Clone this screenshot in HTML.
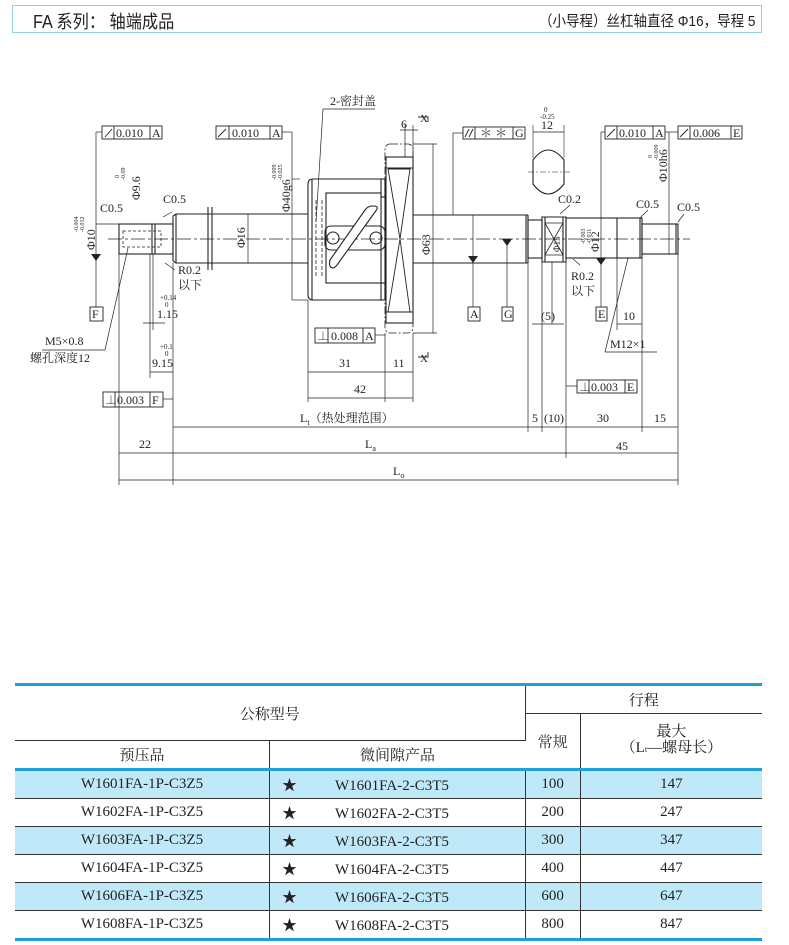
<!DOCTYPE html>
<html><head><meta charset="utf-8"><style>
body{margin:0;width:789px;height:945px;background:#fff;position:relative;overflow:hidden;font-family:"Liberation Serif","Noto Serif CJK SC",serif;color:#222}
.hdr{position:absolute;left:12px;top:5px;width:748px;height:26px;border:1.5px solid #8fd0e6;}
.hdr .l{position:absolute;left:20px;top:2px;font-size:18px;font-family:"Liberation Sans","Noto Sans CJK SC",sans-serif;transform:scaleX(.9);transform-origin:left}
.hdr .r{position:absolute;right:6px;top:4px;font-size:15px;font-family:"Liberation Sans","Noto Sans CJK SC",sans-serif;transform:scaleX(.9);transform-origin:right}
table{position:absolute;left:15px;top:683px;width:747px;border-collapse:collapse;font-size:15px;text-align:center;font-family:"Liberation Serif","Noto Serif CJK SC",serif}
td{border:1px solid #333;padding:0;height:27px}
.tb{border-top:3px solid #1fa0d8}
.bb td{border-bottom:3px solid #1fa0d8}
.b{background:#bfe9f8}
tr td:first-child{border-left:none} tr td:last-child{border-right:none}
</style></head><body>
<div class="hdr"><span class="l">FA 系列： 轴端成品</span><span class="r">（小导程）丝杠轴直径 Φ16，导程 5</span></div>
<svg width="789" height="500" style="position:absolute;left:0;top:0" font-family="Liberation Serif, Noto Serif CJK SC, serif" font-size="13" fill="none" stroke="#222" stroke-width="1.1">
<line x1="108" y1="239" x2="690" y2="239" stroke-dasharray="14,3,3,3" stroke-width=".7"/>
<!-- left journal -->
<rect x="119" y="224" width="54" height="30"/>
<line x1="152" y1="224" x2="152" y2="254"/><line x1="155" y1="224" x2="155" y2="254"/>
<rect x="123" y="231" width="38" height="16" stroke-dasharray="3,2" stroke-width=".8"/>
<line x1="173" y1="216" x2="173" y2="261"/>
<path d="M173,216 L176,214 H308 M173,261 L176,263 H308"/>
<line x1="176" y1="214" x2="176" y2="263"/>
<line x1="208" y1="207" x2="208" y2="270"/><line x1="212" y1="207" x2="212" y2="270"/>
<!-- nut -->
<path d="M313,179 H385 V300 H313 Q308,300 308,295 V184 Q308,179 313,179Z"/>
<line x1="312" y1="179" x2="312" y2="300"/>
<rect x="326" y="193" width="55" height="90"/>
<rect x="381" y="179" width="4" height="18"/><rect x="381" y="283" width="4" height="17"/>
<rect x="325" y="226" width="60" height="24" rx="6"/>
<circle cx="333" cy="238" r="6"/><circle cx="376" cy="238" r="6"/>
<path d="M337,265 L375,212 Q380,206 374,206 L372,206 Q368,206 365,210 L330,260 Q328,268 334,268Z" fill="#fff"/>
<line x1="316" y1="200" x2="316" y2="278" stroke-dasharray="4,2" stroke-width=".8"/>
<line x1="322" y1="200" x2="322" y2="278" stroke-dasharray="4,2" stroke-width=".8"/>
<!-- flange -->
<rect x="385" y="144" width="28" height="189" rx="5" stroke-dasharray="8,2,2,2" stroke-width=".8"/>
<rect x="386" y="157" width="27" height="166"/>
<line x1="386" y1="168" x2="413" y2="168"/><line x1="386" y1="312" x2="413" y2="312"/>
<polyline points="388,169 410,169 400,239 388,312 410,312 400,239 388,169" stroke-width=".9"/>
<!-- right shaft -->
<line x1="413" y1="215" x2="528" y2="215"/><line x1="413" y1="263" x2="528" y2="263"/>
<path d="M528,215 V263 M526,215 V263"/>
<rect x="528" y="220" width="14" height="38"/>
<path d="M542,217 H566 V262 H542Z M545,217 V262 M563,217 V262"/>
<path d="M545,223 L563,255 M545,255 L563,223 M545,223 H563 M545,255 H563" stroke-width=".8"/>
<rect x="566" y="218" width="76" height="40"/><line x1="617" y1="218" x2="617" y2="258"/><line x1="640" y1="218" x2="640" y2="258"/>
<rect x="642" y="224" width="36" height="30"/><line x1="676" y1="224" x2="676" y2="254"/>
<path d="M533,160 Q548,140 564,160 V184 Q548,204 533,184Z"/>
<line x1="528" y1="172" x2="570" y2="172" stroke-dasharray="6,2,2,2" stroke-width=".6"/>
<line x1="533" y1="125" x2="533" y2="158" stroke-width=".6"/><line x1="564" y1="125" x2="564" y2="158" stroke-width=".6"/>
<line x1="533" y1="132" x2="564" y2="132" stroke-width=".7"/>
<g stroke-width=".7">
<line x1="119" y1="254" x2="119" y2="485"/><line x1="173" y1="263" x2="173" y2="485"/>
<line x1="153" y1="254" x2="153" y2="330"/><line x1="150" y1="254" x2="150" y2="378"/>
<line x1="308" y1="300" x2="308" y2="402"/><line x1="385" y1="333" x2="385" y2="402"/><line x1="413" y1="333" x2="413" y2="402"/>
<line x1="528" y1="263" x2="528" y2="432"/><line x1="542" y1="262" x2="542" y2="432"/><line x1="566" y1="262" x2="566" y2="458"/>
<line x1="642" y1="258" x2="642" y2="432"/><line x1="678" y1="254" x2="678" y2="485"/>
<line x1="119" y1="480" x2="678" y2="480"/><line x1="119" y1="453" x2="678" y2="453"/>
<line x1="173" y1="427" x2="678" y2="427"/>
<line x1="308" y1="372" x2="413" y2="372"/><line x1="308" y1="398" x2="413" y2="398"/>
<line x1="143" y1="323" x2="165" y2="323"/><line x1="150" y1="372" x2="173" y2="372"/>
<line x1="433" y1="144" x2="433" y2="333"/><line x1="413" y1="144" x2="437" y2="144"/><line x1="413" y1="333" x2="437" y2="333"/>
<line x1="292" y1="132" x2="292" y2="300"/><line x1="282" y1="132" x2="292" y2="132"/><line x1="292" y1="179" x2="300" y2="179"/><line x1="292" y1="300" x2="308" y2="300"/>
<line x1="96" y1="132" x2="96" y2="307"/><line x1="96" y1="132" x2="102" y2="132"/><line x1="96" y1="224" x2="119" y2="224"/>
<line x1="248" y1="214" x2="248" y2="263"/>
<line x1="473" y1="215" x2="473" y2="307"/><line x1="507" y1="239" x2="507" y2="307"/>
<line x1="601" y1="132" x2="601" y2="307"/><line x1="601" y1="132" x2="605" y2="132"/>
<line x1="669" y1="132" x2="669" y2="254"/><line x1="665" y1="132" x2="678" y2="132"/>
<line x1="453" y1="133" x2="453" y2="215"/><line x1="453" y1="133" x2="463" y2="133"/>
<line x1="552" y1="262" x2="552" y2="324"/><line x1="532" y1="324" x2="564" y2="324"/>
<line x1="617" y1="258" x2="617" y2="330"/><line x1="617" y1="324" x2="642" y2="324"/>
<line x1="405" y1="125" x2="405" y2="157"/><line x1="413" y1="125" x2="413" y2="157"/><line x1="400" y1="130" x2="418" y2="130"/>
<line x1="323" y1="109" x2="375" y2="109"/><line x1="323" y1="109" x2="316" y2="222"/>
<line x1="163" y1="399" x2="173" y2="399"/><line x1="566" y1="386" x2="577" y2="386"/>
<line x1="375" y1="335" x2="385" y2="335"/>
<line x1="42" y1="350" x2="105" y2="350"/><line x1="105" y1="350" x2="128" y2="248"/>
<line x1="605" y1="352" x2="657" y2="352"/><line x1="605" y1="352" x2="628" y2="258"/>
<line x1="165" y1="263" x2="175" y2="270"/><line x1="573" y1="259" x2="580" y2="265"/>
<line x1="163" y1="217" x2="172" y2="212"/><line x1="560" y1="214" x2="570" y2="205"/>
<line x1="640" y1="218" x2="648" y2="210"/><line x1="678" y1="222" x2="684" y2="214"/>
</g>
<g fill="#222" stroke="none">
<polygon points="91,254 101,254 96,261"/><polygon points="468,256 478,256 473,263"/><polygon points="502,239 512,239 507,246"/><polygon points="596,258 606,258 601,265"/>
</g>
<g stroke-width=".9">
<rect x="102" y="126" width="60" height="13"/><line x1="114" y1="126" x2="114" y2="139"/><line x1="150" y1="126" x2="150" y2="139"/>
<rect x="216" y="126" width="66" height="13"/><line x1="229" y1="126" x2="229" y2="139"/><line x1="270" y1="126" x2="270" y2="139"/>
<rect x="463" y="127" width="62" height="12"/><line x1="475" y1="127" x2="475" y2="139"/><line x1="513" y1="127" x2="513" y2="139"/>
<rect x="605" y="126" width="60" height="13"/><line x1="617" y1="126" x2="617" y2="139"/><line x1="653" y1="126" x2="653" y2="139"/>
<rect x="678" y="126" width="64" height="13"/><line x1="690" y1="126" x2="690" y2="139"/><line x1="731" y1="126" x2="731" y2="139"/>
<rect x="315" y="328" width="60" height="15"/><line x1="328" y1="328" x2="328" y2="343"/><line x1="363" y1="328" x2="363" y2="343"/>
<rect x="103" y="392" width="60" height="15"/><line x1="115" y1="392" x2="115" y2="407"/><line x1="150" y1="392" x2="150" y2="407"/>
<rect x="577" y="380" width="60" height="13"/><line x1="589" y1="380" x2="589" y2="393"/><line x1="625" y1="380" x2="625" y2="393"/>
<rect x="90" y="307" width="13" height="14"/><rect x="468" y="307" width="12" height="14"/><rect x="502" y="307" width="11" height="14"/><rect x="596" y="307" width="11" height="14"/>
<path d="M105,137 L112,129 M218,137 L226,129 M607,137 L615,129 M680,137 L688,129 M465,137 L469,129 M469,137 L473,129"/>
<path d="M418,117 H428 V122 M418,357 H428 V352"/>
</g>
<g fill="#222" stroke="none" font-size="12">
<text x="116" y="137">0.010</text><text x="152" y="137">A</text>
<text x="232" y="137">0.010</text><text x="272" y="137">A</text>
<text x="480" y="137">＊ ＊</text><text x="515" y="137">G</text>
<text x="619" y="137">0.010</text><text x="655" y="137">A</text>
<text x="693" y="137">0.006</text><text x="733" y="137">E</text>
<text x="317" y="340">⊥</text><text x="331" y="340">0.008</text><text x="365" y="340">A</text>
<text x="105" y="404">⊥</text><text x="117" y="404">0.003</text><text x="152" y="404">F</text>
<text x="579" y="391">⊥</text><text x="591" y="391">0.003</text><text x="627" y="391">E</text>
<text x="92" y="318">F</text><text x="470" y="318">A</text><text x="504" y="318">G</text><text x="598" y="318">E</text>
<text x="100" y="212">C0.5</text><text x="163" y="203">C0.5</text><text x="558" y="203">C0.2</text><text x="636" y="208">C0.5</text><text x="677" y="211">C0.5</text>
<text x="178" y="274">R0.2</text><text x="178" y="289">以下</text>
<text x="571" y="280">R0.2</text><text x="571" y="295">以下</text>
<text x="157" y="318">1.15</text><text x="152" y="367">9.15</text>
<text x="160" y="300" font-size="7">+0.14</text><text x="165" y="307" font-size="7">0</text>
<text x="160" y="349" font-size="7">+0.1</text><text x="165" y="356" font-size="7">0</text>
<text x="330" y="105">2-密封盖</text>
<text x="401" y="128">6</text>
<text x="420" y="122" font-size="11">X</text><text x="420" y="362" font-size="11">X</text>
<text x="339" y="367">31</text><text x="393" y="367">11</text><text x="354" y="393">42</text>
<text x="300" y="422">L<tspan font-size="8" dy="3">t</tspan><tspan dy="-3">（热处理范围）</tspan></text>
<text x="139" y="448">22</text><text x="365" y="448">L<tspan font-size="8" dy="3">a</tspan></text>
<text x="393" y="475">L<tspan font-size="8" dy="3">o</tspan></text>
<text x="532" y="422">5</text><text x="544" y="422">(10)</text><text x="597" y="422">30</text><text x="654" y="422">15</text>
<text x="616" y="450">45</text>
<text x="541" y="320">(5)</text><text x="623" y="320">10</text>
<text x="610" y="348">M12×1</text>
<text x="45" y="345">M5×0.8</text><text x="30" y="362">螺孔深度12</text>
<text x="541" y="129">12</text><text x="544" y="112" font-size="7">0</text><text x="540" y="119" font-size="7">-0.25</text>
<g font-size="12">
<text transform="translate(95,250) rotate(-90)">Φ10</text>
<text transform="translate(140,200) rotate(-90)">Φ9.6</text>
<text transform="translate(245,248) rotate(-90)">Φ16</text>
<text transform="translate(290,212) rotate(-90)">Φ40g6</text>
<text transform="translate(430,255) rotate(-90)">Φ63</text>
<text transform="translate(560,252) rotate(-90)" font-size="9">Φ15</text>
<text transform="translate(599,252) rotate(-90)">Φ12</text>
<text transform="translate(667,182) rotate(-90)">Φ10h6</text>
</g>
<g font-size="6">
<text transform="translate(78,232) rotate(-90)">-0.004</text><text transform="translate(84,232) rotate(-90)">-0.012</text>
<text transform="translate(276,180) rotate(-90)">-0.009</text><text transform="translate(282,180) rotate(-90)">-0.025</text>
<text transform="translate(585,244) rotate(-90)">-0.003</text><text transform="translate(591,244) rotate(-90)">-0.011</text>
<text transform="translate(652,158) rotate(-90)">0</text><text transform="translate(658,160) rotate(-90)">-0.009</text>
<text transform="translate(119,178) rotate(-90)">0</text><text transform="translate(125,180) rotate(-90)">-0.09</text>
</g>
</g>
</svg>
<table>
<tr><td class="tb" colspan="2" rowspan="2" style="height:54px">公称型号</td><td class="tb" colspan="2">行程</td></tr>
<tr><td rowspan="2">常规</td><td rowspan="2" style="line-height:16px">最大<br>（L<span style="font-size:8px">t</span>—螺母长）</td></tr>
<tr><td style="width:254px">预压品</td><td style="width:255px">微间隙产品</td></tr>
<tr class="b"><td style="border-top:3px solid #1fa0d8">W1601FA-1P-C3Z5</td><td style="border-top:3px solid #1fa0d8;text-align:left;padding-left:12px">★<span style="margin-left:38px">W1601FA-2-C3T5</span></td><td style="border-top:3px solid #1fa0d8">100</td><td style="border-top:3px solid #1fa0d8">147</td></tr>
<tr><td>W1602FA-1P-C3Z5</td><td style="text-align:left;padding-left:12px">★<span style="margin-left:38px">W1602FA-2-C3T5</span></td><td>200</td><td>247</td></tr>
<tr class="b"><td>W1603FA-1P-C3Z5</td><td style="text-align:left;padding-left:12px">★<span style="margin-left:38px">W1603FA-2-C3T5</span></td><td>300</td><td>347</td></tr>
<tr><td>W1604FA-1P-C3Z5</td><td style="text-align:left;padding-left:12px">★<span style="margin-left:38px">W1604FA-2-C3T5</span></td><td>400</td><td>447</td></tr>
<tr class="b"><td>W1606FA-1P-C3Z5</td><td style="text-align:left;padding-left:12px">★<span style="margin-left:38px">W1606FA-2-C3T5</span></td><td>600</td><td>647</td></tr>
<tr class="bb"><td>W1608FA-1P-C3Z5</td><td style="text-align:left;padding-left:12px">★<span style="margin-left:38px">W1608FA-2-C3T5</span></td><td>800</td><td>847</td></tr>
</table>
</body></html>
